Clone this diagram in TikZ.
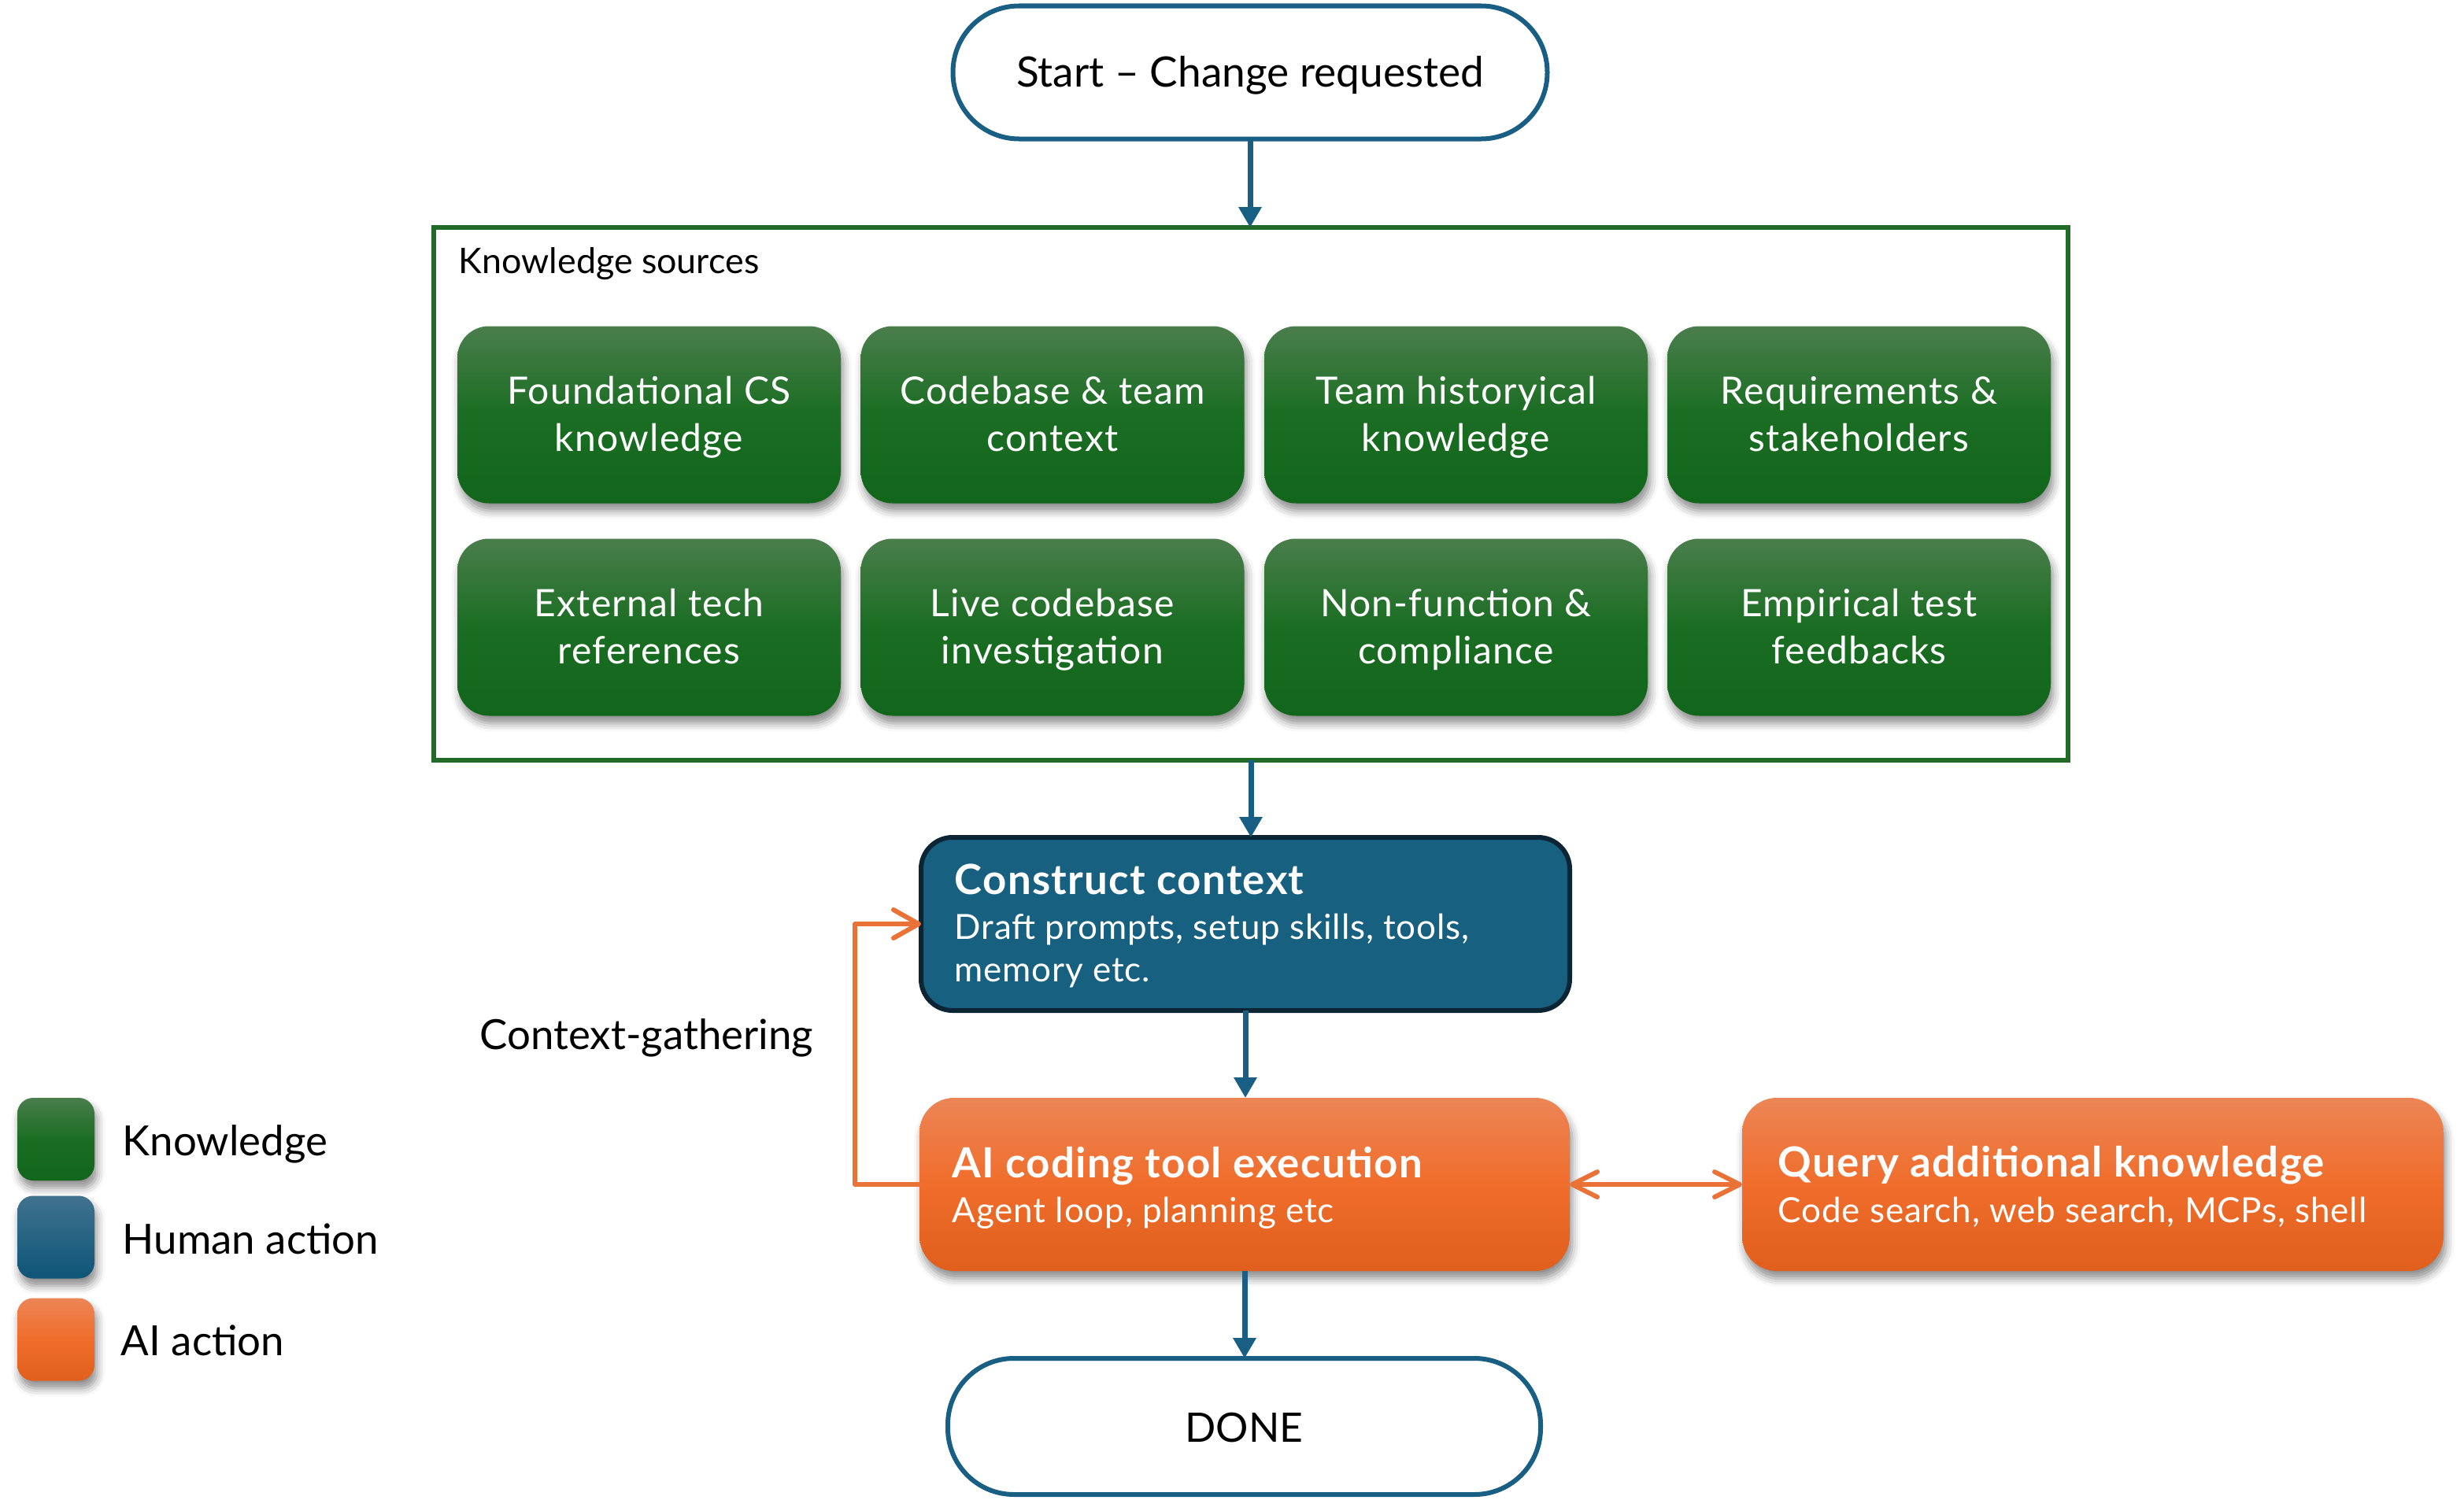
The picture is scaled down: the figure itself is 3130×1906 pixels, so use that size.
\documentclass[tikz,border=0pt]{standalone}
\usepackage{fontspec}
\setmainfont{Lato}
\usetikzlibrary{arrows.meta,shadows.blur}
\definecolor{kgTop}{HTML}{4A7E4C}
\definecolor{kgMid}{HTML}{1A6D22}
\definecolor{kgBot}{HTML}{12661B}
\definecolor{frameGreen}{HTML}{1F6B27}
\definecolor{flowBlue}{HTML}{185F83}
\definecolor{humanFill}{HTML}{17607F}
\definecolor{humanLine}{HTML}{0B2535}
\definecolor{hlTop}{HTML}{40728F}
\definecolor{hlBot}{HTML}{0E5577}
\definecolor{aiTop}{HTML}{EC8556}
\definecolor{aiMid}{HTML}{F06D2B}
\definecolor{aiBot}{HTML}{E05F1C}
\definecolor{loopOrange}{HTML}{EA7236}
\newcommand\kst{\rule[-3pt]{0pt}{14pt}}
\tikzset{
  softshadow/.style={blur shadow={shadow xshift=0.8pt, shadow yshift=-2.4pt, shadow blur radius=2.6pt, shadow opacity=45}},
  kbox/.style={rectangle, rounded corners=10pt, minimum width=121.75pt, minimum height=56.25pt,
    inner sep=0pt, outer sep=0pt, softshadow, top color=kgTop, bottom color=kgBot, middle color=kgMid,
    text=white, align=center, font=\fontsize{12}{15}\selectfont\addfontfeatures{LetterSpace=2.6}},
  term/.style={rectangle, rounded corners=21pt, draw=flowBlue, line width=1.5pt, fill=white,
    inner sep=0pt, outer sep=0pt},
  aibox/.style={rectangle, rounded corners=11pt, minimum height=55pt, inner sep=0pt, outer sep=0pt,
    softshadow, top color=aiTop, bottom color=aiBot, middle color=aiMid},
  humanbox/.style={rectangle, rounded corners=10pt, minimum height=55pt, inner sep=0pt, outer sep=0pt,
    draw=humanLine, line width=1.5pt, fill=humanFill},
  legsq/.style={rectangle, rounded corners=5pt, minimum width=24.5pt, minimum height=26.25pt,
    inner sep=0pt, outer sep=0pt, softshadow},
  titletxt/.style={anchor=base west, inner sep=0pt, text=white,
    font=\bfseries\fontsize{13.2}{15}\selectfont\addfontfeatures{LetterSpace=2.5}},
  subtxt/.style={anchor=base west, inner sep=0pt, text=white,
    font=\fontsize{11}{13.5}\selectfont\addfontfeatures{LetterSpace=1.9}},
  bigtxt/.style={inner sep=0pt, font=\fontsize{13.2}{15}\selectfont},
  bluearrow/.style={draw=flowBlue, line width=1.75pt, -{Triangle[width=7pt,length=6.5pt]}},
  orangeline/.style={draw=loopOrange, line width=1.5pt, line cap=round, line join=round}
}
\begin{document}
\begin{tikzpicture}[x=0.25pt, y=-0.25pt]
\useasboundingbox (0,0) rectangle (3130,1906);

% Start / Done
\node[term, minimum width=188.75pt, minimum height=42.25pt] (start) at (1588,92) {};
\node[bigtxt, anchor=base, font=\fontsize{13.3}{15}\selectfont] (starttxt) at (1588,110) {Start – Change requested};
\node[term, minimum width=188.25pt, minimum height=43.25pt] (done) at (1580.5,1812.5) {};
\node[bigtxt, anchor=base, font=\fontsize{12.9}{15}\selectfont] (donetxt) at (1580.5,1832) {DONE};

% Knowledge frame
\node[rectangle, draw=frameGreen, line width=1.6pt, minimum width=519pt, minimum height=169.25pt,
  inner sep=0pt, outer sep=0pt] (frame) at (1589,627.5) {};
\node[anchor=base west, inner sep=0pt, font=\fontsize{11.2}{13}\selectfont] (frametitle) at (582,347) {Knowledge sources};

% Knowledge boxes
\node[kbox] (k1) at (824.5,527) {Foundational CS\kst\\knowledge\kst};
\node[kbox] (k2) at (1337,527) {Codebase \& team\kst\\context\kst};
\node[kbox] (k3) at (1849.5,527) {Team historyical\kst\\knowledge\kst};
\node[kbox] (k4) at (2361.5,527) {Requirements \&\kst\\stakeholders\kst};
\node[kbox] (k5) at (824.5,797) {External tech\kst\\references\kst};
\node[kbox] (k6) at (1337,797) {Live codebase\kst\\investigation\kst};
\node[kbox] (k7) at (1849.5,797) {Non-function \&\kst\\compliance\kst};
\node[kbox] (k8) at (2361.5,797) {Empirical test\kst\\feedbacks\kst};

% Construct context
\node[humanbox, minimum width=206pt] (construct) at (1582,1174) {};
\node[titletxt] (ctitle) at (1212,1136) {Construct context};
\node[subtxt] (csub1) at (1212,1193) {Draft prompts, setup skills, tools,};
\node[subtxt] (csub2) at (1212,1247) {memory etc.};

% AI coding tool execution
\node[aibox, minimum width=206.5pt] (ai) at (1581,1505) {};
\node[titletxt] (aititle) at (1209,1496) {AI coding tool execution};
\node[subtxt] (aisub) at (1209,1553) {Agent loop, planning etc};

% Query additional knowledge
\node[aibox, minimum width=222.75pt] (query) at (2658.5,1505) {};
\node[titletxt] (qtitle) at (2258,1495) {Query additional knowledge};
\node[subtxt] (qsub) at (2258,1553) {Code search, web search, MCPs, shell};

% Context-gathering label
\node[bigtxt, anchor=base west] (cg) at (609,1333) {Context-gathering};

% Connectors
\draw[bluearrow] (start.south) -- (start.south |- frame.north);
\draw[bluearrow] (frame.south) -- (frame.south |- construct.north);
\draw[bluearrow] (construct.south) -- (construct.south |- ai.north);
\draw[bluearrow] (ai.south) -- (ai.south |- done.north);
\coordinate (loopx) at (1086,1505);
\draw[orangeline, -{Straight Barb[length=8pt,width=9pt,round]}] (ai.west) -- (loopx) |- (construct.west);
\draw[orangeline, {Straight Barb[length=8pt,width=8pt,round]}-{Straight Barb[length=8pt,width=8pt,round]}] (ai.east) -- (query.west);

% Legend
\node[legsq, top color=kgTop, bottom color=kgBot, middle color=kgMid] (lg1) at (71,1447.5) {};
\node[legsq, top color=hlTop, bottom color=hlBot] (lg2) at (71,1572) {};
\node[legsq, top color=aiTop, bottom color=aiBot, middle color=aiMid] (lg3) at (71,1702) {};
\node[bigtxt, anchor=base west] (lt1) at (155,1468) {Knowledge};
\node[bigtxt, anchor=base west] (lt2) at (155,1593) {Human action};
\node[bigtxt, anchor=base west] (lt3) at (153,1722) {AI action};
\end{tikzpicture}
\end{document}
